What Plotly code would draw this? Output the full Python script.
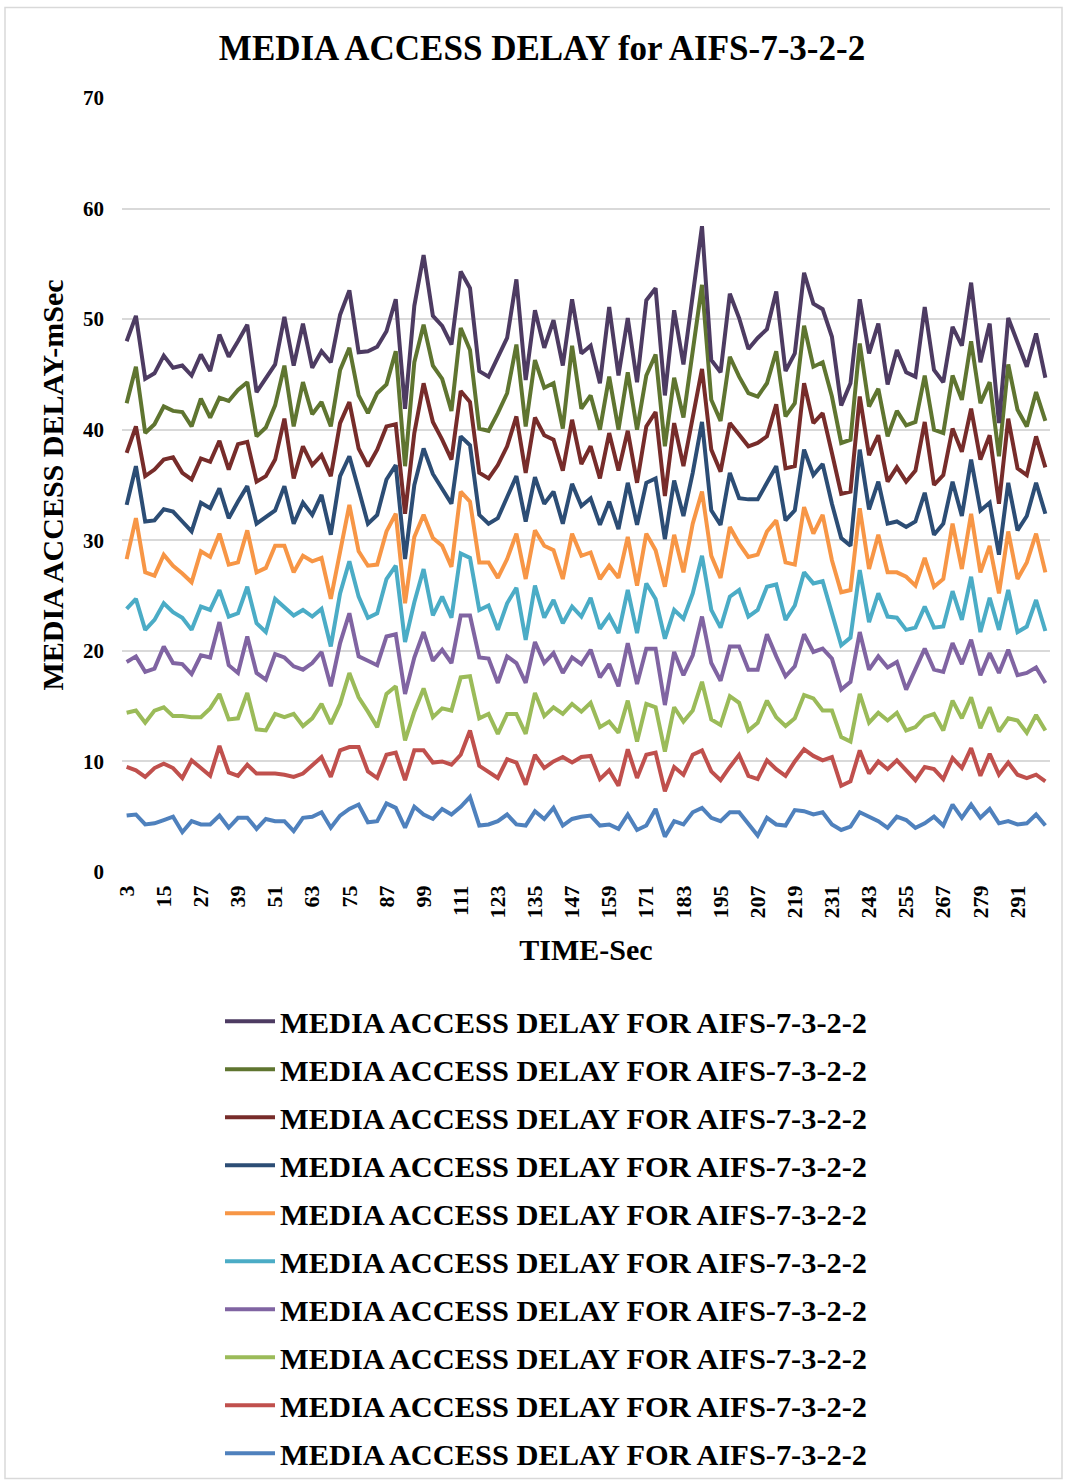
import plotly.graph_objects as go

# Time axis: one sample every 3 seconds
time_sec = [str(t) for t in range(3, 301, 3)]
tick_labels = [str(t) for t in range(3, 301, 12)]

# Media access delay (ms), one list per series (series 1 .. 10)
delay_s1 = [5.1, 5.2, 4.3, 4.4, 4.7, 5.0, 3.6, 4.6, 4.3, 4.3, 5.1, 4.0, 4.9, 4.9, 3.9, 4.8, 4.6, 4.6, 3.7, 4.9, 5.0, 5.4, 4.0, 5.1, 5.7,
            6.1, 4.5, 4.6, 6.2, 5.8, 4.0, 5.9, 5.2, 4.8, 5.7, 5.2, 5.9, 6.8, 4.2, 4.3, 4.6, 5.2, 4.3, 4.2, 5.5, 4.8, 5.8, 4.2, 4.8, 5.0,
            5.1, 4.2, 4.3, 3.9, 5.2, 3.8, 4.2, 5.7, 3.2, 4.6, 4.3, 5.4, 5.8, 4.9, 4.6, 5.4, 5.4, 4.3, 3.3, 4.9, 4.3, 4.2, 5.6, 5.5, 5.2,
            5.4, 4.3, 3.8, 4.1, 5.4, 5.0, 4.6, 4.0, 5.0, 4.7, 4.0, 4.4, 5.0, 4.2, 6.1, 4.9, 6.1, 4.9, 5.7, 4.4, 4.6, 4.3, 4.4, 5.2, 4.2]
delay_s2 = [9.5, 9.2, 8.6, 9.4, 9.8, 9.4, 8.5, 10.1, 9.4, 8.7, 11.4, 9.0, 8.7, 9.7, 8.9, 8.9, 8.9, 8.8, 8.6, 8.9, 9.7, 10.4, 8.6, 11.0, 11.3,
            11.3, 9.1, 8.5, 10.6, 10.8, 8.3, 11.0, 11.0, 9.9, 10.0, 9.7, 10.6, 12.8, 9.6, 9.1, 8.5, 10.2, 9.9, 7.9, 10.6, 9.4, 10.0, 10.4, 9.9, 10.4,
            10.5, 8.4, 9.2, 7.8, 11.1, 8.5, 10.6, 10.8, 7.3, 9.5, 8.8, 10.6, 11.0, 9.1, 8.3, 9.5, 10.6, 8.7, 8.4, 10.1, 9.3, 8.7, 10.0, 11.1, 10.5,
            10.1, 10.4, 7.8, 8.2, 11.0, 8.9, 10.0, 9.3, 10.1, 9.2, 8.3, 9.5, 9.3, 8.4, 10.3, 9.4, 11.2, 8.7, 10.7, 8.8, 9.9, 8.8, 8.5, 8.8, 8.2]
delay_s3 = [14.4, 14.6, 13.5, 14.6, 14.9, 14.1, 14.1, 14.0, 14.0, 14.8, 16.1, 13.8, 13.9, 16.2, 12.9, 12.8, 14.3, 14.0, 14.3, 13.2, 13.9, 15.2, 13.4, 15.2, 18.0,
            15.8, 14.5, 13.1, 16.1, 16.8, 11.9, 14.5, 16.6, 14.0, 14.8, 14.6, 17.6, 17.7, 13.9, 14.3, 12.5, 14.3, 14.3, 12.5, 16.2, 14.1, 14.9, 14.3, 15.2, 14.5,
            15.3, 13.1, 13.6, 12.6, 15.5, 11.8, 15.2, 14.9, 10.9, 14.9, 13.6, 14.6, 17.2, 13.8, 13.3, 15.9, 15.3, 12.8, 13.5, 15.5, 14.0, 13.2, 13.9, 16.0, 15.7,
            14.6, 14.6, 12.2, 11.8, 16.1, 13.5, 14.4, 13.7, 14.4, 12.8, 13.1, 14.0, 14.3, 12.8, 15.5, 13.9, 15.8, 13.0, 14.9, 12.7, 13.9, 13.7, 12.6, 14.2, 12.8]
delay_s4 = [19.0, 19.5, 18.1, 18.4, 20.4, 18.9, 18.8, 17.9, 19.6, 19.4, 22.6, 18.7, 18.0, 21.3, 18.0, 17.4, 19.7, 19.4, 18.6, 18.3, 18.9, 19.9, 16.8, 20.7, 23.4,
            19.5, 19.1, 18.7, 21.3, 21.5, 16.1, 19.4, 21.7, 19.1, 20.1, 18.9, 23.2, 23.2, 19.4, 19.3, 17.1, 19.5, 18.9, 17.1, 20.8, 18.9, 19.8, 18.0, 19.4, 18.8,
            20.1, 17.6, 18.8, 16.8, 20.7, 17.0, 20.2, 20.2, 15.1, 19.9, 17.8, 19.6, 23.1, 18.9, 17.3, 20.4, 20.4, 18.3, 18.3, 21.5, 19.5, 17.7, 18.6, 21.5, 19.9,
            20.2, 19.3, 16.5, 17.2, 21.7, 18.3, 19.5, 18.5, 19.0, 16.5, 18.4, 20.2, 18.3, 18.1, 20.7, 18.8, 21.0, 17.8, 19.8, 18.0, 20.1, 17.8, 18.0, 18.5, 17.1]
delay_s5 = [23.8, 24.7, 21.9, 22.8, 24.3, 23.5, 23.0, 21.9, 24.0, 23.7, 25.5, 23.1, 23.4, 25.8, 22.5, 21.7, 24.7, 24.0, 23.2, 23.7, 23.1, 23.8, 20.4, 25.2, 28.1,
            24.9, 23.0, 23.4, 26.5, 27.7, 20.8, 24.4, 27.4, 23.2, 24.9, 23.0, 28.8, 28.4, 23.7, 24.1, 21.9, 24.3, 25.7, 21.0, 25.9, 23.0, 24.6, 22.5, 24.0, 23.1,
            24.8, 22.0, 23.2, 21.6, 25.5, 21.6, 26.1, 24.7, 21.1, 23.7, 22.9, 25.2, 28.6, 23.7, 22.1, 24.9, 25.5, 23.1, 23.7, 25.8, 26.0, 22.8, 24.1, 27.1, 26.1,
            26.3, 23.5, 20.5, 21.2, 27.3, 22.6, 25.2, 23.1, 23.0, 21.9, 22.1, 24.0, 22.1, 22.2, 25.4, 22.8, 26.7, 21.7, 24.8, 21.9, 25.5, 21.7, 22.2, 24.6, 21.8]
delay_s6 = [28.3, 32.0, 27.1, 26.8, 28.7, 27.7, 27.0, 26.2, 29.0, 28.5, 30.6, 27.8, 28.0, 30.9, 27.1, 27.5, 29.5, 29.5, 27.1, 28.6, 28.1, 28.4, 24.7, 29.0, 33.2,
            29.0, 27.7, 27.8, 30.8, 32.4, 24.3, 30.3, 32.3, 30.2, 29.5, 27.6, 34.4, 33.5, 28.0, 28.0, 26.6, 28.3, 30.6, 26.5, 30.9, 29.5, 29.1, 26.5, 30.6, 28.6,
            28.9, 26.5, 27.7, 26.6, 30.3, 25.9, 30.6, 29.1, 25.8, 30.5, 27.1, 31.5, 34.4, 28.6, 26.6, 31.2, 29.7, 28.5, 28.7, 30.8, 31.8, 28.0, 27.8, 33.0, 30.6,
            32.3, 28.2, 25.3, 25.5, 32.9, 27.4, 30.5, 27.1, 27.1, 26.7, 25.9, 28.4, 25.8, 26.5, 31.5, 27.4, 32.4, 27.1, 29.5, 25.2, 30.8, 26.5, 28.0, 30.6, 27.1]
delay_s7 = [33.2, 36.7, 31.7, 31.8, 32.8, 32.6, 31.7, 30.8, 33.4, 32.9, 34.7, 32.0, 33.5, 34.9, 31.5, 32.1, 32.7, 34.9, 31.5, 33.4, 32.3, 34.1, 30.5, 35.8, 37.6,
            34.6, 31.5, 32.3, 35.5, 36.8, 28.3, 35.0, 38.3, 36.0, 34.7, 33.3, 39.4, 38.6, 32.3, 31.5, 32.0, 34.0, 35.8, 31.7, 35.7, 33.3, 34.4, 31.5, 35.1, 33.1,
            33.8, 31.4, 33.5, 31.0, 35.2, 31.4, 35.2, 35.6, 30.1, 35.4, 32.2, 36.1, 40.7, 32.7, 31.4, 36.1, 33.8, 33.7, 33.7, 35.2, 36.7, 31.8, 32.7, 38.2, 35.9,
            36.9, 33.3, 30.2, 29.5, 38.2, 32.8, 35.3, 31.5, 31.7, 31.2, 31.7, 34.3, 30.5, 31.5, 35.3, 32.2, 37.3, 32.7, 33.4, 28.7, 35.2, 30.9, 32.2, 35.2, 32.4]
delay_s8 = [37.9, 40.3, 35.8, 36.4, 37.3, 37.5, 36.1, 35.5, 37.4, 37.1, 39.0, 36.4, 38.7, 38.9, 35.3, 35.8, 37.3, 41.0, 35.6, 38.5, 36.8, 37.7, 35.8, 40.6, 42.5,
            38.3, 36.7, 38.2, 40.3, 40.5, 32.4, 39.7, 44.2, 40.7, 39.1, 37.3, 43.5, 42.5, 36.1, 35.6, 36.8, 38.5, 41.2, 36.1, 41.1, 39.5, 39.1, 36.3, 40.9, 36.9,
            38.5, 35.6, 39.7, 36.3, 39.9, 35.2, 40.3, 41.6, 34.0, 40.6, 36.7, 41.2, 45.5, 38.2, 36.2, 40.6, 39.5, 38.5, 38.8, 39.4, 42.3, 36.5, 36.7, 44.2, 40.6,
            41.5, 37.9, 34.2, 34.4, 43.0, 37.7, 39.5, 35.3, 36.6, 35.3, 36.3, 40.7, 35.0, 35.9, 40.1, 38.0, 41.9, 37.3, 39.5, 33.3, 41.0, 36.5, 35.9, 39.4, 36.6]
delay_s9 = [42.4, 45.7, 39.7, 40.5, 42.1, 41.7, 41.6, 40.3, 42.8, 41.1, 42.9, 42.6, 43.6, 44.3, 39.4, 40.2, 42.2, 45.8, 40.3, 44.3, 41.4, 42.5, 40.3, 45.4, 47.4,
            43.1, 41.5, 43.3, 44.1, 47.1, 36.7, 46.1, 49.5, 45.8, 44.6, 41.7, 49.2, 47.2, 40.1, 39.9, 41.5, 43.3, 47.7, 40.3, 46.3, 43.8, 44.2, 40.1, 47.6, 41.9,
            43.1, 40.0, 44.8, 40.0, 45.2, 40.0, 44.9, 46.8, 38.5, 44.7, 41.1, 47.2, 53.1, 42.7, 40.8, 46.6, 44.8, 43.3, 43.0, 44.2, 47.1, 41.2, 42.4, 49.4, 45.7,
            46.1, 43.0, 38.8, 39.1, 47.8, 42.1, 43.7, 39.4, 41.7, 40.4, 40.7, 44.9, 40.0, 39.7, 44.9, 42.7, 48.0, 42.4, 44.3, 37.6, 45.9, 41.8, 40.3, 43.4, 40.8]
delay_s10 = [48.0, 50.3, 44.6, 45.1, 46.7, 45.6, 45.8, 44.9, 46.8, 45.3, 48.6, 46.6, 48.0, 49.5, 43.4, 44.6, 45.9, 50.2, 45.8, 49.6, 45.6, 47.1, 46.1, 50.4, 52.6,
             47.0, 47.1, 47.5, 48.9, 51.8, 41.9, 51.2, 55.8, 50.3, 49.4, 47.7, 54.3, 52.8, 45.3, 44.8, 46.5, 48.3, 53.6, 44.5, 50.8, 47.4, 49.9, 45.8, 51.8, 46.9,
             47.6, 44.2, 51.1, 44.9, 50.1, 44.3, 51.7, 52.8, 43.1, 50.8, 45.9, 51.9, 58.4, 46.3, 45.2, 52.3, 50.1, 47.3, 48.3, 49.1, 52.5, 45.3, 46.9, 54.2, 51.4,
             50.9, 48.4, 42.2, 44.2, 51.8, 46.9, 49.6, 44.1, 47.2, 45.2, 44.8, 51.1, 45.4, 44.3, 49.3, 47.6, 53.3, 46.1, 49.6, 40.6, 50.1, 48.0, 45.7, 48.7, 44.7]

series_values = [delay_s1, delay_s2, delay_s3, delay_s4, delay_s5,
                 delay_s6, delay_s7, delay_s8, delay_s9, delay_s10]
series_colors = ["#4F81BD", "#C0504D", "#9BBB59", "#8064A2", "#4BACC6",
                 "#F79646", "#2C4D75", "#772C2A", "#5F7530", "#4D3B62"]
series_name = "MEDIA ACCESS DELAY FOR AIFS-7-3-2-2"

SERIF = "Liberation Serif, Times New Roman, serif"

fig = go.Figure()
n_series = len(series_values)
for k, (vals, col) in enumerate(zip(series_values, series_colors)):
    fig.add_trace(go.Scatter(
        x=time_sec, y=vals, mode="lines", name=series_name,
        legendgroup=f"s{k + 1}", legendrank=n_series - k,
        line=dict(color=col, width=4),
    ))

W, H = 1067, 1484
L, R, T, B = 122, 17, 97.5, 612
pw = W - L - R
ph = H - T - B


def px_x(p):
    return (p - L) / pw


def px_y(p):
    return (H - B - p) / ph


fig.update_layout(
    width=W, height=H,
    margin=dict(l=L, r=R, t=T, b=B, pad=0, autoexpand=False),
    paper_bgcolor="white", plot_bgcolor="white",
    font=dict(family=SERIF, color="black", weight="bold"),
    title=dict(text="MEDIA ACCESS DELAY for AIFS-7-3-2-2",
               font=dict(family=SERIF, size=35, color="black", weight="bold"),
               x=542 / W, xanchor="center", y=1 - 48 / H, yanchor="middle"),
    xaxis=dict(
        type="category", range=[-0.5, len(time_sec) - 0.5],
        tickmode="array", tickvals=tick_labels, ticktext=tick_labels,
        tickangle=-90, tickfont=dict(family=SERIF, size=22, color="black", weight="bold"),
        showgrid=False, zeroline=False, showline=False, ticks="",
        ticklabelstandoff=8,
        title=dict(text="TIME-Sec", font=dict(family=SERIF, size=30, color="black", weight="bold"),
                   standoff=21),
    ),
    yaxis=dict(
        range=[0, 70], dtick=10, tick0=0,
        showgrid=True, gridcolor="#D9D9D9", gridwidth=2,
        zeroline=False, showline=False, ticks="",
        ticklabelstandoff=17,
        tickfont=dict(family=SERIF, size=21, color="black", weight="bold"),
        title=dict(text="MEDIA ACCESS DELAY-mSec",
                   font=dict(family=SERIF, size=30, color="black", weight="bold"),
                   standoff=10),
    ),
    showlegend=True,
    legend=dict(
        traceorder="grouped", tracegroupgap=5.5,
        orientation="v",
        x=px_x(220), xanchor="left",
        y=px_y(995), yanchor="top",
        font=dict(family=SERIF, size=30.4, color="black", weight="bold"),
        itemwidth=50, bgcolor="rgba(0,0,0,0)",
    ),
    shapes=[dict(
        type="rect", xref="paper", yref="paper",
        x0=px_x(5), x1=px_x(1062), y0=px_y(1479), y1=px_y(7),
        line=dict(color="#D9D9D9", width=1.5), fillcolor="rgba(0,0,0,0)", layer="below",
    )],
)

fig.write_html("out.html")
